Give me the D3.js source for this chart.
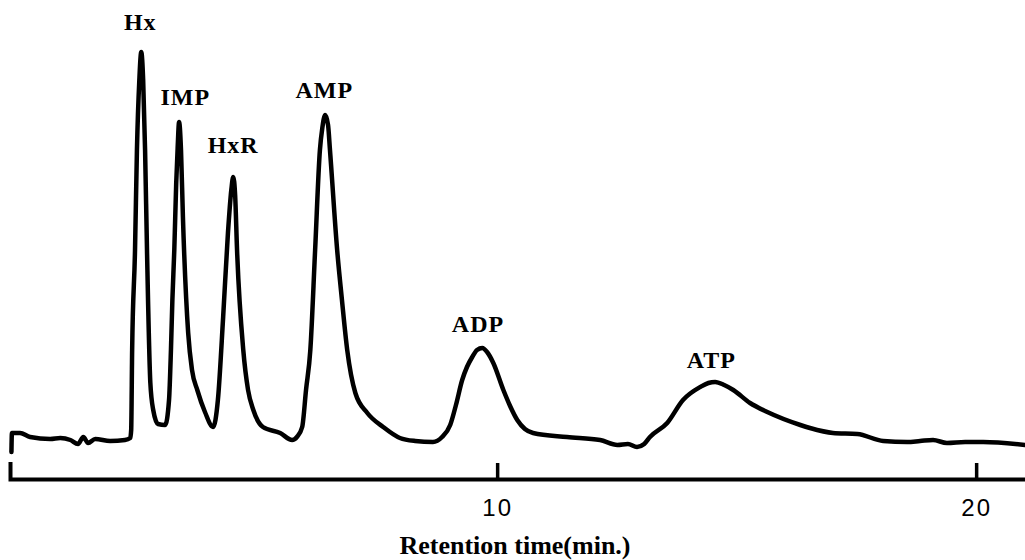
<!DOCTYPE html>
<html>
<head>
<meta charset="utf-8">
<script src="https://cdn.jsdelivr.net/npm/d3@7"></script>
<style>
    body { margin: 0; background: #fff; }
    svg { display: block; }
</style>
</head>
<body>
<div id="chart"></div>
<script>
const width = 1025;
const height = 560;

// retention time (min) and detector signal (relative units)
const times = [
    -0.14, -0.13, 0.04, 0.25, 0.67, 0.88, 1.09, 1.25, 1.36, 1.46, 1.61, 1.92, 2.23, 2.34,
    2.36, 2.38, 2.44, 2.48, 2.53, 2.57, 2.61, 2.65, 2.69, 2.76, 2.82, 2.92, 3.07,
    3.15, 3.19, 3.22, 3.26, 3.30, 3.33, 3.36, 3.40, 3.44, 3.55, 3.63, 3.74, 3.90, 4.07,
    4.17, 4.28, 4.38, 4.45, 4.49, 4.53, 4.57, 4.70, 4.80, 4.91, 5.11, 5.47, 5.72,
    5.82, 5.93, 6.01, 6.10, 6.20, 6.30, 6.35, 6.41, 6.47, 6.51, 6.66, 6.76, 6.87, 7.04, 7.29, 7.62, 7.97,
    8.29, 8.66, 8.85, 9.02, 9.14, 9.27, 9.37, 9.48, 9.58, 9.69, 9.79, 9.92, 10.13, 10.27, 10.42, 10.58, 10.75,
    11.46, 12.15, 12.51, 12.73, 12.92, 13.07, 13.19, 13.55, 13.88, 14.24, 14.41, 14.55, 14.74, 14.93,
    15.28, 15.64, 16.33, 16.53, 17.01, 17.52, 18.06, 18.56, 18.83, 19.10, 19.39, 19.77, 20.15, 21.02
];
const signal = [
    -3, 1.75, 1.75, 0.75, 0.25, 0.5, 0, -1, 0.75, -0.75, 0.25, -0.25, 0, 0.5,
    2.5, 22.5, 47.5, 72.5, 90, 97, 90, 72.5, 47.5, 14.25, 7.5, 4, 3.75,
    10, 22.5, 35, 47.5, 64.25, 73, 79.5, 72.5, 55.75, 26.75, 17.5, 12.5, 7, 3.25,
    10, 30.75, 51.75, 62.5, 65.75, 61.25, 47.5, 22.5, 12.5, 7.5, 3.25, 1.75, 0,
    0.75, 3.25, 12.5, 22.5, 47.5, 72.5, 78, 81.25, 78.75, 72.5, 47.5, 35, 22.5, 11.75, 6.75, 3.25, 0.5,
    -0.25, -0.5, 0.75, 3.75, 8.75, 15, 18.25, 20.75, 22.5, 23, 22, 19.25, 12.5, 8.5, 5, 2.75, 1.75,
    0.75, 0, -1.25, -1, -1.75, -1, 0.75, 4.25, 10, 13.25, 14.25, 14.5, 13.75, 12.5,
    9.25, 7, 3.75, 3, 1.75, 1.5, -0.25, -0.5, -0.25, 0, -0.75, -0.5, -0.5, -1.25
];

// peak names and where their labels sit (time, signal level of the text baseline)
const peakNames = ["Hx", "IMP", "HxR", "AMP", "ADP", "ATP"];
const peakLabelTimes = [2.55, 3.49, 4.49, 6.39, 9.60, 14.47];
const peakLabelLevels = [102.5, 83.75, 71.75, 85.5, 27, 18];

const tickValues = [10, 20];
const xLabel = "Retention time(min.)";

const svg = d3.select("#chart")
    .append("svg")
        .attr("width", width)
        .attr("height", height);

svg.append("rect")
    .attr("width", width)
    .attr("height", height)
    .attr("fill", "#fff");

// 10 min -> 497px, 20 min -> 976px
const x = d3.scaleLinear()
    .domain([-0.17, 21.2])
    .range([10, 10 + 21.37 * 47.9]);

const y = d3.scaleLinear()
    .domain([0, 100])
    .range([440, 40]);

const axisY = 479;

// axis with upward ticks, labels below
const xAxis = svg.append("g")
    .attr("transform", `translate(0, ${axisY})`)
    .call(d3.axisBottom(x)
        .tickValues(tickValues)
        .tickFormat(d3.format("d"))
        .tickSize(-16)
        .tickSizeOuter(-17)
        .tickPadding(20));

xAxis.select(".domain")
    .attr("stroke", "#000")
    .attr("stroke-width", 4);

xAxis.selectAll(".tick line")
    .attr("stroke", "#000")
    .attr("stroke-width", 3.5);

xAxis.selectAll(".tick text")
    .attr("fill", "#000")
    .attr("font-family", "'Liberation Sans', Arial, sans-serif")
    .attr("font-size", 24)
    .attr("letter-spacing", 2);

svg.append("text")
    .attr("x", 515)
    .attr("y", 554)
    .attr("text-anchor", "middle")
    .attr("font-family", "'Liberation Serif', 'DejaVu Serif', serif")
    .attr("font-weight", "bold")
    .attr("font-size", 26)
    .text(xLabel);

// the chromatogram trace
const line = d3.line()
    .x((d, i) => x(times[i]))
    .y(d => y(d))
    .curve(d3.curveMonotoneX);

svg.append("path")
    .datum(signal)
    .attr("d", line)
    .attr("fill", "none")
    .attr("stroke", "#000")
    .attr("stroke-width", 4.5)
    .attr("stroke-linejoin", "round")
    .attr("stroke-linecap", "round");

// peak labels, typewriter style
svg.selectAll("text.peak")
    .data(peakNames)
    .join("text")
        .attr("class", "peak")
        .attr("x", (d, i) => x(peakLabelTimes[i]))
        .attr("y", (d, i) => y(peakLabelLevels[i]))
        .attr("text-anchor", "middle")
        .attr("font-family", "'Liberation Serif', 'DejaVu Serif', serif")
        .attr("font-weight", "bold")
        .attr("font-size", 24)
        .attr("letter-spacing", 1)
        .text(d => d);
</script>
</body>
</html>
